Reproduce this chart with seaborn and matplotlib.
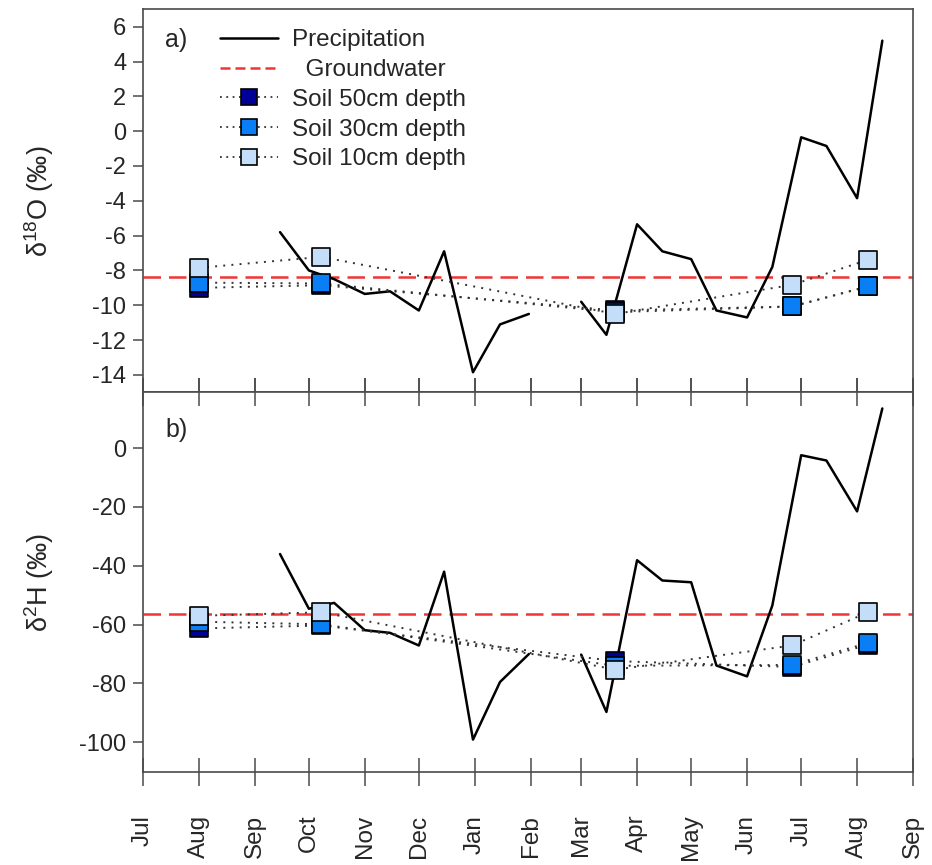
import numpy as np
import pandas as pd
import matplotlib
matplotlib.use("Agg")
import matplotlib.pyplot as plt
from matplotlib.lines import Line2D
import seaborn as sns

# ---------------- data ----------------
precip_dates = ["2012-09-15", "2012-10-01", "2012-10-15", "2012-11-01", "2012-11-15",
                "2012-12-01", "2012-12-15", "2012-12-31", "2013-01-15", "2013-01-31",
                "2013-03-01", "2013-03-15", "2013-04-01", "2013-04-15", "2013-05-01",
                "2013-05-15", "2013-06-01", "2013-06-15", "2013-07-01", "2013-07-15",
                "2013-08-01", "2013-08-15"]
precip_d18o = [-5.8, -8.0, -8.5, -9.35, -9.2, -10.3, -6.9, -13.85, -11.1, -10.5,
               -9.8, -11.7, -5.35, -6.9, -7.35, -10.3, -10.7, -7.8, -0.35, -0.85,
               -3.85, 5.2]
precip_d2h = [-36, -54.6, -52.6, -61.9, -62.8, -67.1, -42, -99.1, -79.5, -70,
              -70.2, -89.7, -38.1, -45, -45.6, -73.9, -77.6, -53.5, -2.4, -4.2,
              -21.5, 13.5]
precip_segment = [0] * 10 + [1] * 12

soil_dates = ["2012-08-01", "2012-10-08", "2013-03-20", "2013-06-26", "2013-08-07"]
soil50_d18o = [-9.0, -8.85, -10.3, -10.07, -8.92]
soil30_d18o = [-8.7, -8.75, -10.4, -10.07, -8.92]
soil10_d18o = [-7.85, -7.22, -10.5, -8.83, -7.39]
soil50_d2h = [-61.3, -60.3, -72.4, -74.4, -66.8]
soil30_d2h = [-59.0, -59.9, -74.0, -73.7, -66.2]
soil10_d2h = [-57.0, -55.8, -75.3, -67.1, -55.8]

gw_d18o = -8.4
gw_d2h = -56.3

month_ticks = pd.date_range("2012-07-01", "2013-09-01", freq="MS")
month_labels = ["Jul", "Aug", "Sep", "Oct", "Nov", "Dec", "Jan", "Feb", "Mar",
                "Apr", "May", "Jun", "Jul", "Aug", "Sep"]

depth_names = ["Soil 50cm depth", "Soil 30cm depth", "Soil 10cm depth"]
depth_colors = ["#000096", "#0A7EF5", "#C4DEFA"]

# ---------------- style ----------------
sns.set_style("ticks")
plt.rcParams["font.family"] = ["Liberation Sans", "DejaVu Sans"]
plt.rcParams["mathtext.default"] = "regular"

precip = pd.DataFrame({"date": pd.to_datetime(precip_dates), "d18O": precip_d18o,
                       "d2H": precip_d2h, "seg": precip_segment})
soil_rows = []
for name, a, b in zip(depth_names, [soil50_d18o, soil30_d18o, soil10_d18o],
                      [soil50_d2h, soil30_d2h, soil10_d2h]):
    for d, v1, v2 in zip(soil_dates, a, b):
        soil_rows.append({"date": pd.Timestamp(d), "depth": name, "d18O": v1, "d2H": v2})
soil = pd.DataFrame(soil_rows)

fig = plt.figure(figsize=(9.32, 8.65), dpi=100)
ax1 = fig.add_axes([0.1534, 0.5465, 0.8262, 0.4427])
ax2 = fig.add_axes([0.1534, 0.1079, 0.8262, 0.4386])

spine_col = "#4a4a4a"
tick_fs = 17

for ax, var, gw, ylim, yticks, ylabel in [
        (ax1, "d18O", gw_d18o, (-15, 7), np.arange(-14, 7, 2), "δ$^{18}$O (‰)"),
        (ax2, "d2H", gw_d2h, (-110, 19), np.arange(-100, 1, 20), "δ$^{2}$H (‰)")]:
    sns.lineplot(data=precip, x="date", y=var, units="seg", estimator=None,
                 color="black", lw=1.8, ax=ax, legend=False, zorder=3)
    ax.axhline(gw, color="#F03535", lw=1.8, dashes=(7, 3.2), zorder=2)
    for name, col in zip(depth_names, depth_colors):
        sub = soil[soil["depth"] == name]
        sns.lineplot(data=sub, x="date", y=var, color="#333333", lw=1.4,
                     linestyle=(0, (1, 3.2)), ax=ax, legend=False, zorder=4,
                     estimator=None)
        sns.scatterplot(data=sub, x="date", y=var, marker="s", s=150, color=col,
                        edgecolor="black", linewidth=1.2, ax=ax, legend=False, zorder=5)
    ax.set_xlim(pd.Timestamp("2012-07-01"), pd.Timestamp("2013-09-01"))
    ax.set_ylim(*ylim)
    ax.set_yticks(yticks)
    ax.set_yticklabels([str(int(t)) for t in yticks], fontsize=tick_fs)
    ax.set_xticks(month_ticks)
    ax.set_xlabel("")
    ax.set_ylabel(ylabel, fontsize=19.5)
    ax.yaxis.set_label_coords(-0.113, 0.5)
    for sp in ax.spines.values():
        sp.set_color(spine_col)
        sp.set_linewidth(1.2)
    ax.tick_params(axis="y", direction="out", length=7, width=1.1, color=spine_col, pad=5)
    ax.tick_params(axis="x", direction="inout", length=20, width=1.1, color=spine_col)

ax1.set_xticklabels([])
ax2.set_xticklabels(month_labels, rotation=90, fontsize=17.5)
ax2.tick_params(axis="x", pad=21)
ax2.tick_params(axis="x", which="both", top=True, direction="inout")

ax1.text(0.029, 0.92, "a)", transform=ax1.transAxes, fontsize=18, va="center", ha="left")
ax2.text(0.029, 0.90, "b)", transform=ax2.transAxes, fontsize=18, va="center", ha="left")

handles = [Line2D([], [], color="black", lw=1.8),
           Line2D([], [], color="#F03535", lw=1.8, dashes=(4, 2))]
for col in depth_colors:
    handles.append(Line2D([], [], color="#333333", lw=1.3, linestyle=(0, (1, 2.5)),
                          marker="s", markersize=12, markerfacecolor=col,
                          markeredgecolor="black", markeredgewidth=1.2))
labels = ["Precipitation", "  Groundwater"] + depth_names
ax1.legend(handles, labels, loc="upper left", bbox_to_anchor=(0.1, 0.948),
           frameon=False, fontsize=17.5, borderpad=0, borderaxespad=0,
           handlelength=2.4, handletextpad=0.55, labelspacing=0.32, numpoints=1)

fig.savefig("out.png", dpi=100)
